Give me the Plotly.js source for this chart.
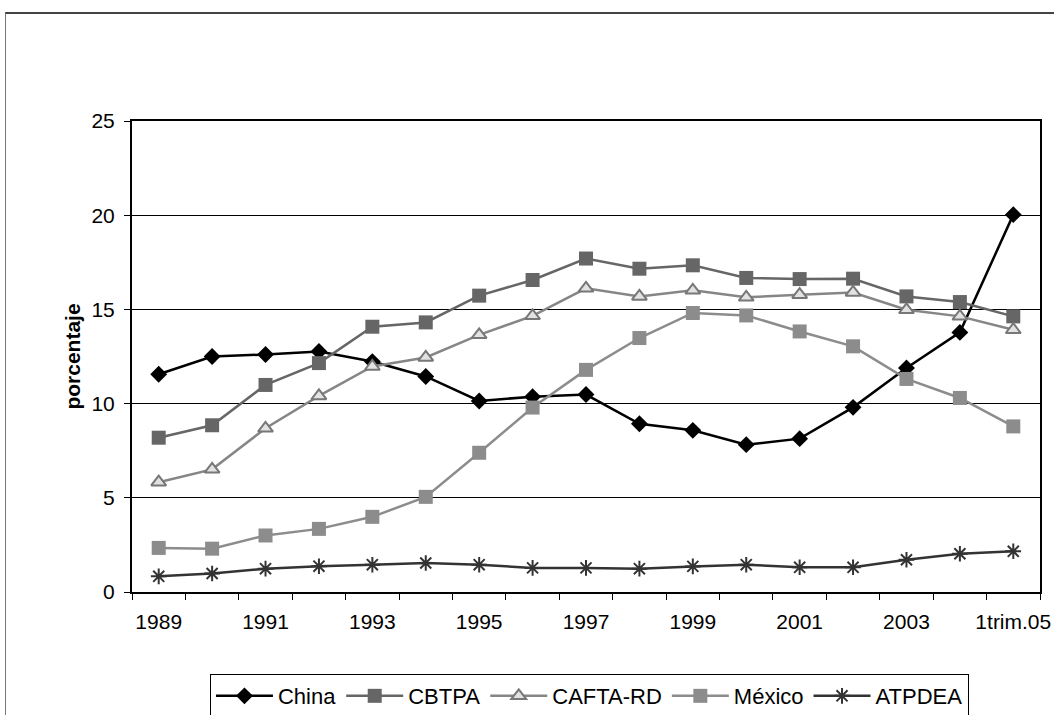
<!DOCTYPE html>
<html>
<head>
<meta charset="utf-8">
<script src="https://cdn.plot.ly/plotly-3.0.1.min.js"></script>
<style>
  html, body { margin: 0; padding: 0; background: #fff; overflow: hidden; width: 1054px; height: 715px; }
  #frame { position: absolute; left: 5px; top: 12px; width: 1060px; height: 720px; box-sizing: border-box;
           border-top: 2px solid #444; border-left: 1px solid #777; }
  #chart { position: absolute; left: 0; top: 0; width: 1054px; height: 715px; }
</style>
</head>
<body>
<div id="frame"></div>
<div id="chart"></div>
<script>
const categories = ["1989","1990","1991","1992","1993","1994","1995","1996","1997","1998","1999","2000","2001","2002","2003","2004","1trim.05"];
const tickLabels = ["1989","","1991","","1993","","1995","","1997","","1999","","2001","","2003","","1trim.05"];

const china   = [11.56, 12.5, 12.61, 12.77, 12.23, 11.44, 10.14, 10.37, 10.48, 8.93, 8.58, 7.82, 8.14, 9.8, 11.89, 13.78, 20.03];
const cbtpa   = [8.19, 8.85, 10.99, 12.15, 14.08, 14.31, 15.73, 16.56, 17.7, 17.16, 17.34, 16.67, 16.61, 16.63, 15.69, 15.39, 14.63];
const cafta   = [5.83, 6.51, 8.69, 10.41, 11.97, 12.45, 13.65, 14.66, 16.12, 15.69, 16.01, 15.64, 15.78, 15.9, 14.98, 14.63, 13.92];
const mexico  = [2.34, 2.3, 3.0, 3.35, 3.99, 5.05, 7.39, 9.79, 11.79, 13.48, 14.81, 14.68, 13.83, 13.04, 11.31, 10.3, 8.79];
const atpdea  = [0.83, 0.98, 1.24, 1.37, 1.45, 1.54, 1.45, 1.28, 1.28, 1.24, 1.36, 1.45, 1.31, 1.31, 1.71, 2.03, 2.16];

const seriesNames = ["China", "CBTPA", "CAFTA-RD", "México", "ATPDEA"];

const traces = [
  { x: categories, y: china, name: seriesNames[0], mode: "lines+markers",
    line: { color: "#000000", width: 2.5 },
    marker: { symbol: "diamond", size: 13, color: "#000000" } },
  { x: categories, y: cbtpa, name: seriesNames[1], mode: "lines+markers",
    line: { color: "#666666", width: 2.5 },
    marker: { symbol: "square", size: 14, color: "#666666" } },
  { x: categories, y: cafta, name: seriesNames[2], mode: "lines+markers",
    line: { color: "#868686", width: 2.5 },
    marker: { symbol: "triangle-up", size: 13, color: "#e2e2e2", line: { color: "#777777", width: 2 } } },
  { x: categories, y: mexico, name: seriesNames[3], mode: "lines+markers",
    line: { color: "#8c8c8c", width: 2.5 },
    marker: { symbol: "square", size: 14, color: "#8c8c8c" } },
  { x: categories, y: atpdea, name: seriesNames[4], mode: "lines+markers",
    line: { color: "#333333", width: 2.5 },
    marker: { symbol: "asterisk-open", size: 13, color: "#333333", line: { color: "#333333", width: 2 } } }
];

const layout = {
  width: 1054, height: 715,
  paper_bgcolor: "rgba(0,0,0,0)", plot_bgcolor: "#ffffff",
  margin: { l: 132, r: 14, t: 121, b: 123, pad: 0, autoexpand: false },
  font: { family: "Liberation Sans, Arial, sans-serif", size: 21, color: "#000" },
  showlegend: true,
  legend: {
    orientation: "h", xref: "container", yref: "container",
    x: 0.1992, xanchor: "left", y: 0.0573, yanchor: "top",
    bordercolor: "#000", borderwidth: 1, bgcolor: "#fff",
    font: { size: 22 }, itemwidth: 57, traceorder: "normal"
  },
  xaxis: {
    type: "category", range: [-0.5, 16.5], tickmode: "array", tickvals: categories, ticktext: tickLabels,
    tickson: "boundaries", ticks: "outside", ticklen: 6, tickwidth: 1, tickcolor: "#000",
    tickangle: 0, ticklabelstandoff: 10, automargin: false,
    showline: true, linecolor: "#000", linewidth: 2, mirror: true,
    showgrid: false, zeroline: false, fixedrange: true,
    tickfont: { size: 21 }
  },
  yaxis: {
    range: [0, 25], tickvals: [0, 5, 10, 15, 20, 25], automargin: false,
    ticks: "outside", ticklen: 6, tickwidth: 1, tickcolor: "#000", ticklabelstandoff: 5,
    showline: true, linecolor: "#000", linewidth: 2, mirror: true,
    showgrid: true, gridcolor: "#000", gridwidth: 1, zeroline: false,
    tickfont: { size: 21 },
    title: { text: "<b>porcentaje</b>", font: { size: 21 }, standoff: 5 }
  }
};

Plotly.newPlot("chart", traces, layout, { displayModeBar: false, staticPlot: true });
</script>
</body>
</html>
